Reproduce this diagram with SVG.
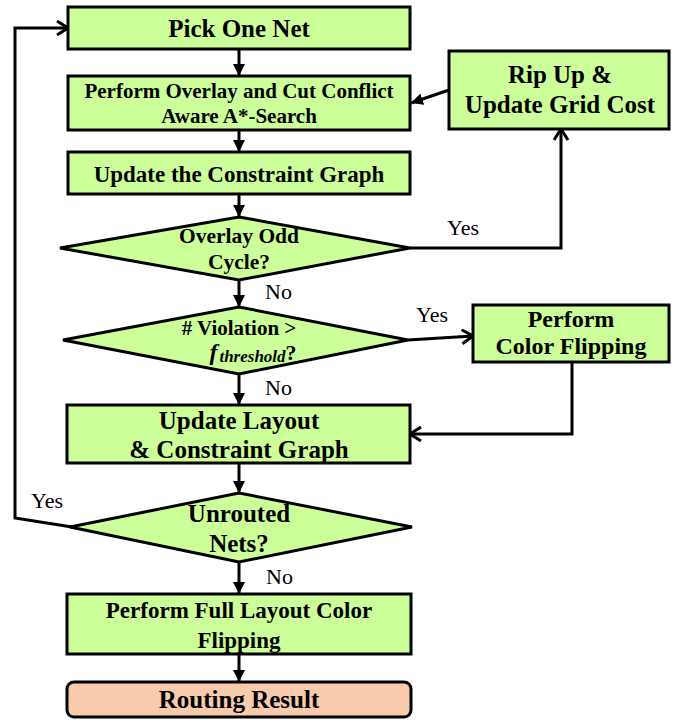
<svg xmlns="http://www.w3.org/2000/svg" width="678" height="722" viewBox="0 0 678 722" font-family="Liberation Serif, Times New Roman, Times, DejaVu Serif, serif">
<style>
.box{fill:#CCFF99;stroke:#000;stroke-width:3}
.res{fill:#F8CBAD;stroke:#000;stroke-width:3}
.t{font-weight:bold;fill:#000;text-anchor:middle}
.l{font-size:22px;fill:#000}
.c{fill:none;stroke:#000;stroke-width:3}
</style>
<defs>
<marker id="fa" markerUnits="userSpaceOnUse" markerWidth="14" markerHeight="14" refX="12" refY="6" orient="auto">
<path d="M0,0 L12,6 L0,12 Z" fill="#000"/>
</marker>
<marker id="oa" markerUnits="userSpaceOnUse" markerWidth="16" markerHeight="18" refX="13" refY="8" orient="auto">
<path d="M2,1 L13,8 L2,15" fill="none" stroke="#000" stroke-width="3"/>
</marker>
</defs>
<g id="connectors">
<line class="c" x1="239" y1="49" x2="239" y2="76" marker-end="url(#fa)"/>
<line class="c" x1="239" y1="130" x2="239" y2="152" marker-end="url(#fa)"/>
<line class="c" x1="239" y1="194" x2="239" y2="217" marker-end="url(#fa)"/>
<line class="c" x1="239" y1="280" x2="239" y2="307" marker-end="url(#fa)"/>
<line class="c" x1="239" y1="374" x2="239" y2="405" marker-end="url(#fa)"/>
<line class="c" x1="239" y1="463" x2="239" y2="493" marker-end="url(#fa)"/>
<line class="c" x1="239" y1="562" x2="239" y2="594" marker-end="url(#fa)"/>
<line class="c" x1="239" y1="654" x2="239" y2="682" marker-end="url(#fa)"/>
<line class="c" x1="449" y1="90" x2="411" y2="103" marker-end="url(#fa)"/>
<polyline class="c" points="410,248 561,248 561,129" marker-end="url(#oa)"/>
<line class="c" x1="408" y1="340" x2="473" y2="336" marker-end="url(#oa)"/>
<polyline class="c" points="572,362 572,434 410,434" marker-end="url(#oa)"/>
<polyline class="c" points="72,527 15,518 15,28 68,28" marker-end="url(#oa)"/>
<text class="l" x="447" y="235">Yes</text>
<text class="l" x="265" y="299">No</text>
<text class="l" x="416" y="322">Yes</text>
<text class="l" x="265" y="395">No</text>
<text class="l" x="31" y="508">Yes</text>
<text class="l" x="266" y="584">No</text>
</g>
<g id="pick">
<rect class="box" x="68" y="7" width="342" height="42"/>
<text class="t" x="239" y="37" font-size="25">Pick One Net</text>
</g>
<g id="astar">
<rect class="box" x="68" y="76" width="342" height="54"/>
<text class="t" x="239" y="98" font-size="21">Perform Overlay and Cut Conflict</text>
<text class="t" x="239" y="123" font-size="21">Aware A*-Search</text>
</g>
<g id="ucg">
<rect class="box" x="68" y="152" width="342" height="42"/>
<text class="t" x="239" y="182" font-size="23">Update the Constraint Graph</text>
</g>
<g id="ripup">
<rect class="box" x="449" y="51" width="220" height="78"/>
<text class="t" x="560" y="83" font-size="25">Rip Up &amp;</text>
<text class="t" x="560" y="113" font-size="25">Update Grid Cost</text>
</g>
<g id="odd">
<polygon class="box" points="239,217 410,248 239,280 60,248"/>
<text class="t" x="239" y="243" font-size="21.5">Overlay Odd</text>
<text class="t" x="239" y="269" font-size="21.5">Cycle?</text>
</g>
<g id="viol">
<polygon class="box" points="239,307 408,340 239,374 63,340"/>
<text class="t" x="239" y="335" font-size="21"># Violation &gt;</text>
<text class="t" x="253" y="360" font-size="22"><tspan font-style="italic" font-size="24">f</tspan><tspan font-style="italic" font-size="17" dy="2" dx="2">threshold</tspan><tspan dy="-2">?</tspan></text>
</g>
<g id="flip">
<rect class="box" x="473" y="305" width="196" height="57"/>
<text class="t" x="571" y="327" font-size="24">Perform</text>
<text class="t" x="571" y="354" font-size="24">Color Flipping</text>
</g>
<g id="layout">
<rect class="box" x="67" y="405" width="343" height="58"/>
<text class="t" x="239" y="429" font-size="25">Update Layout</text>
<text class="t" x="239" y="458" font-size="25">&amp; Constraint Graph</text>
</g>
<g id="unrouted">
<polygon class="box" points="239,493 412,527 239,562 70,527"/>
<text class="t" x="239" y="522" font-size="25">Unrouted</text>
<text class="t" x="239" y="552" font-size="25">Nets?</text>
</g>
<g id="full">
<rect class="box" x="67" y="594" width="344" height="60"/>
<text class="t" x="239" y="618" font-size="23">Perform Full Layout Color</text>
<text class="t" x="239" y="648" font-size="23">Flipping</text>
</g>
<g id="result">
<rect class="res" x="67" y="682" width="344" height="35" rx="7" ry="7"/>
<text class="t" x="239" y="708" font-size="25">Routing Result</text>
</g>
</svg>
